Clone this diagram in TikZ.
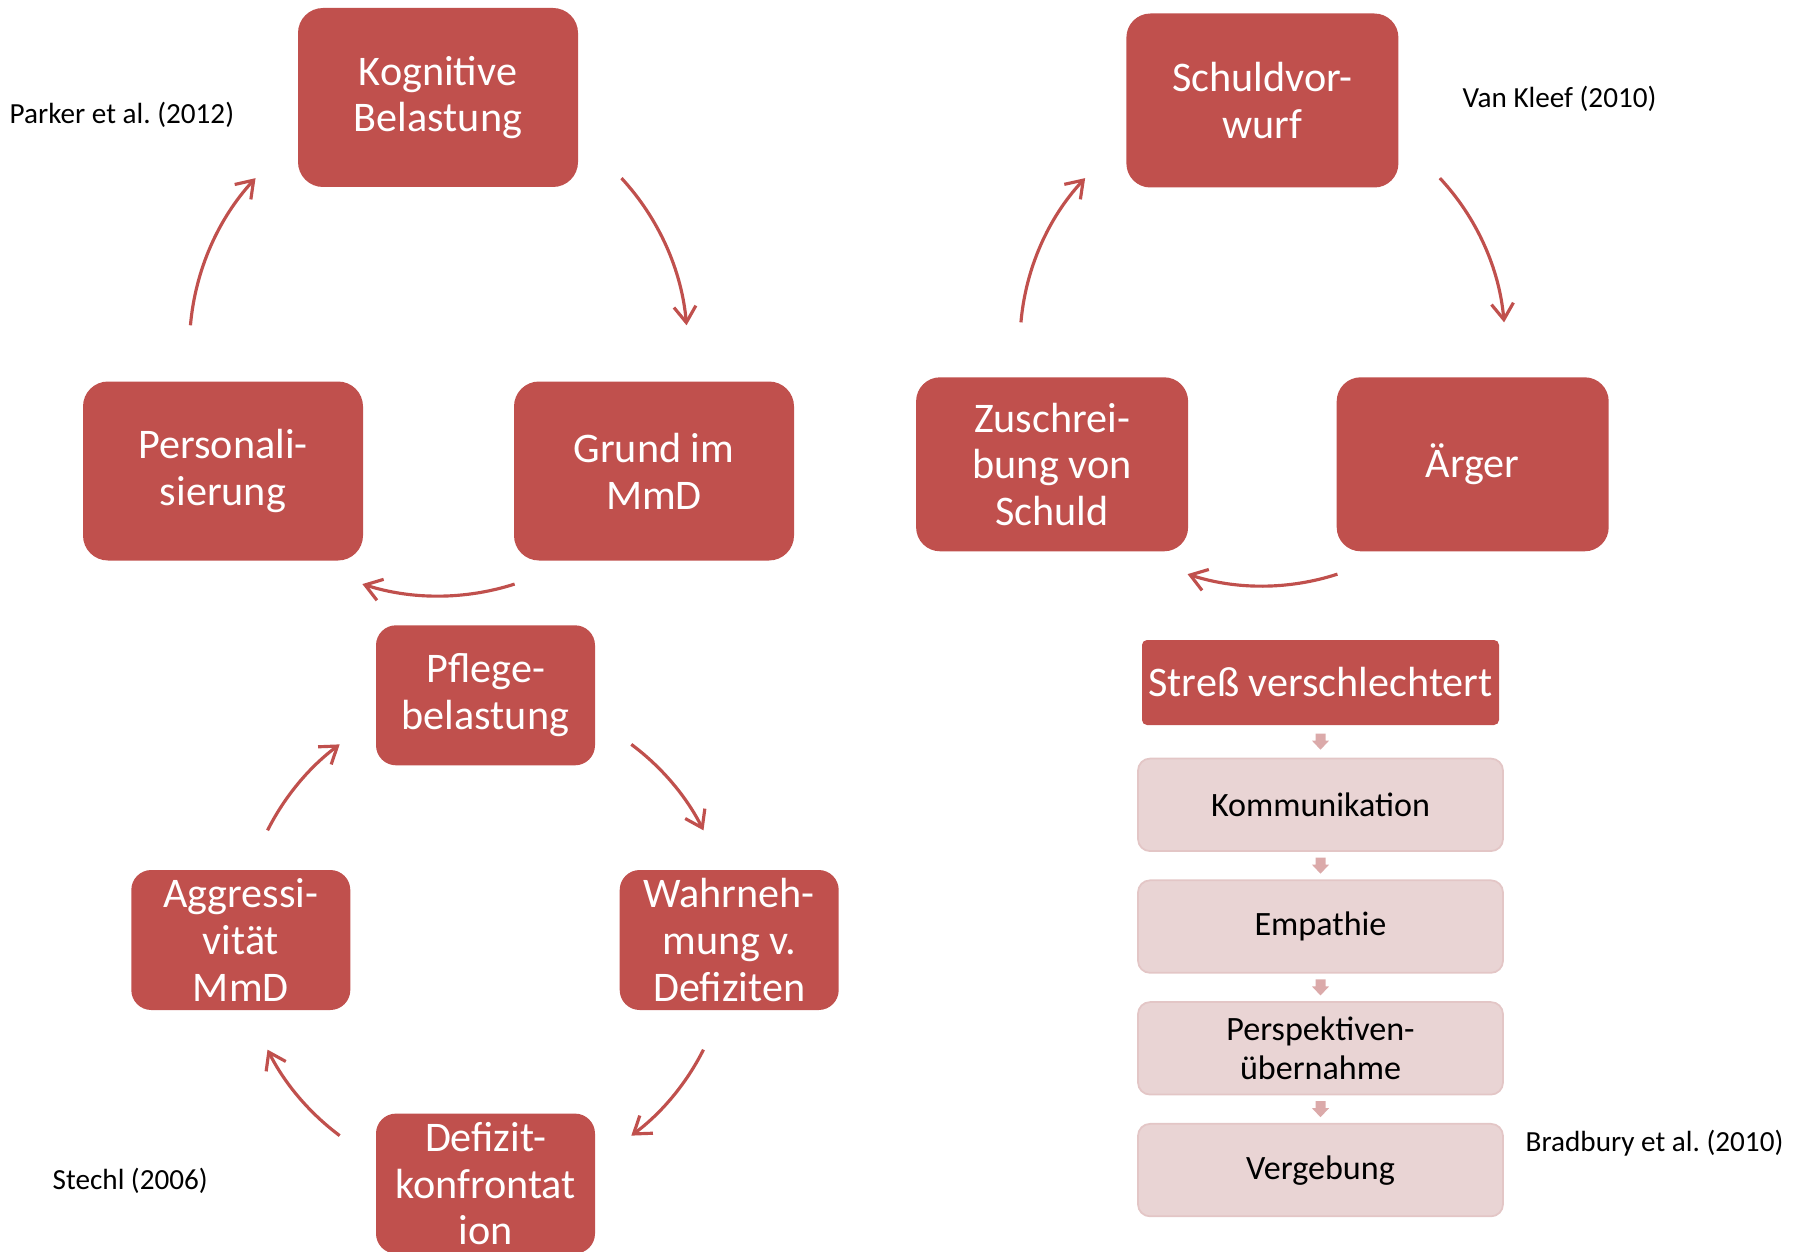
\documentclass[tikz,border=0pt]{standalone}
\usepackage{fontspec}
\setmainfont{Carlito}
\usetikzlibrary{calc, positioning, arrows.meta}
\definecolor{accent}{HTML}{C0504D}
\definecolor{lightfill}{HTML}{E9D4D4}
\definecolor{lightline}{HTML}{E3C6C6}
\definecolor{blockarr}{HTML}{DBAAAA}
\frenchspacing

\begin{document}
\begin{tikzpicture}[x=0.1mm, y=0.1mm,
  redbox/.style={fill=accent, text=white, align=center, inner sep=0pt, font=\fontsize{12}{13.3}\selectfont},
  bigbox/.style={redbox, minimum width=28mm, minimum height=17.9mm, rounded corners=2.5mm},
  midbox/.style={redbox, minimum width=27.2mm, minimum height=17.4mm, rounded corners=2.4mm},
  smallbox/.style={redbox, minimum width=21.9mm, minimum height=14mm, rounded corners=2mm},
  listbox/.style={fill=lightfill, draw=lightline, line width=0.5pt, rounded corners=1.2mm, minimum width=36.5mm, minimum height=9.25mm, align=center, inner sep=0pt, font=\fontsize{9.7}{10.9}\selectfont},
  cite/.style={anchor=west, inner sep=0pt, font=\fontsize{8.3}{10}\selectfont},
  cyc/.style={accent, line width=0.9pt, -{Straight Barb[length=1.6mm, width=2.2mm]}},
  blockarrow/.style={fill=blockarr}
]
\useasboundingbox (0,0) rectangle (1802,-1252);

% Parker et al.
\node[bigbox] (kog) at (438,-97.5) {Kognitive\\Belastung};
\node[bigbox] (grund) at (654,-471) {Grund im\\MmD};
\node[bigbox] (pers) at (223,-471) {Personali-\\sierung};
\node[cite] (parker) at (9,-115) {Parker et al. (2012)};

\coordinate (c1) at (438.5,-347);
\foreach \s/\e in {42.7/5, -72.2/-107.8, 175/137.3}
  \draw[cyc] ($(c1)+(\s:24.9mm)$) arc[start angle=\s, end angle=\e, radius=24.9mm];

% Van Kleef
\node[midbox] (schuld) at (1262.4,-100.5) {Schuldvor-\\wurf};
\node[midbox] (aerger) at (1472.7,-464.3) {Ärger};
\node[midbox] (zuschr) at (1052.1,-464.3) {Zuschrei-\\bung von\\Schuld};
\node[cite] (vankleef) at (1462,-99) {Van Kleef (2010)};

\coordinate (c2) at (1262.5,-343.5);
\foreach \s/\e in {43/5, -72/-108, 175/137}
  \draw[cyc] ($(c2)+(\s:24.25mm)$) arc[start angle=\s, end angle=\e, radius=24.25mm];

% Stechl
\node[smallbox] (pflege) at (485.5,-695.3) {Pflege-\\belastung};
\node[smallbox] (wahrn) at (729.2,-940) {Wahrneh-\\mung v.\\Defiziten};
\node[smallbox] (defizit) at (485.5,-1183.6) {Defizit-\\konfrontat\\ion};
\node[smallbox] (aggr) at (240.8,-940) {Aggressi-\\vität\\MmD};
\node[cite] (stechl) at (52,-1181) {Stechl (2006)};

\coordinate (c3) at (485.5,-940);
\foreach \s/\e in {53.3/26.7, -26.7/-53.3, -126.7/-153.3, 153.3/126.7}
  \draw[cyc] ($(c3)+(\s:24.4mm)$) arc[start angle=\s, end angle=\e, radius=24.4mm];

% Bradbury et al.
\node[redbox, minimum width=35.7mm, minimum height=8.5mm, rounded corners=0.5mm] (stress) at (1320.5,-682.5) {Streß verschlechtert};
\node[listbox, below=3.2mm of stress] (komm) {Kommunikation};
\node[listbox, below=2.75mm of komm] (emp) {Empathie};
\node[listbox, below=2.75mm of emp] (persp) {Perspektiven-\\übernahme};
\node[listbox, below=2.75mm of persp] (verg) {Vergebung};
\node[cite] (bradbury) at (1525,-1143) {Bradbury et al. (2010)};

\foreach \a/\b in {stress/komm, komm/emp, emp/persp, persp/verg}
  \fill[blockarrow] ($(\a.south)!0.5!(\b.north)$) ++(-5,8) -- ++(10,0) -- ++(0,-7) -- ++(3.5,0) -- ++(-8.5,-9) -- ++(-8.5,9) -- ++(3.5,0) -- cycle;
\end{tikzpicture}
\end{document}
